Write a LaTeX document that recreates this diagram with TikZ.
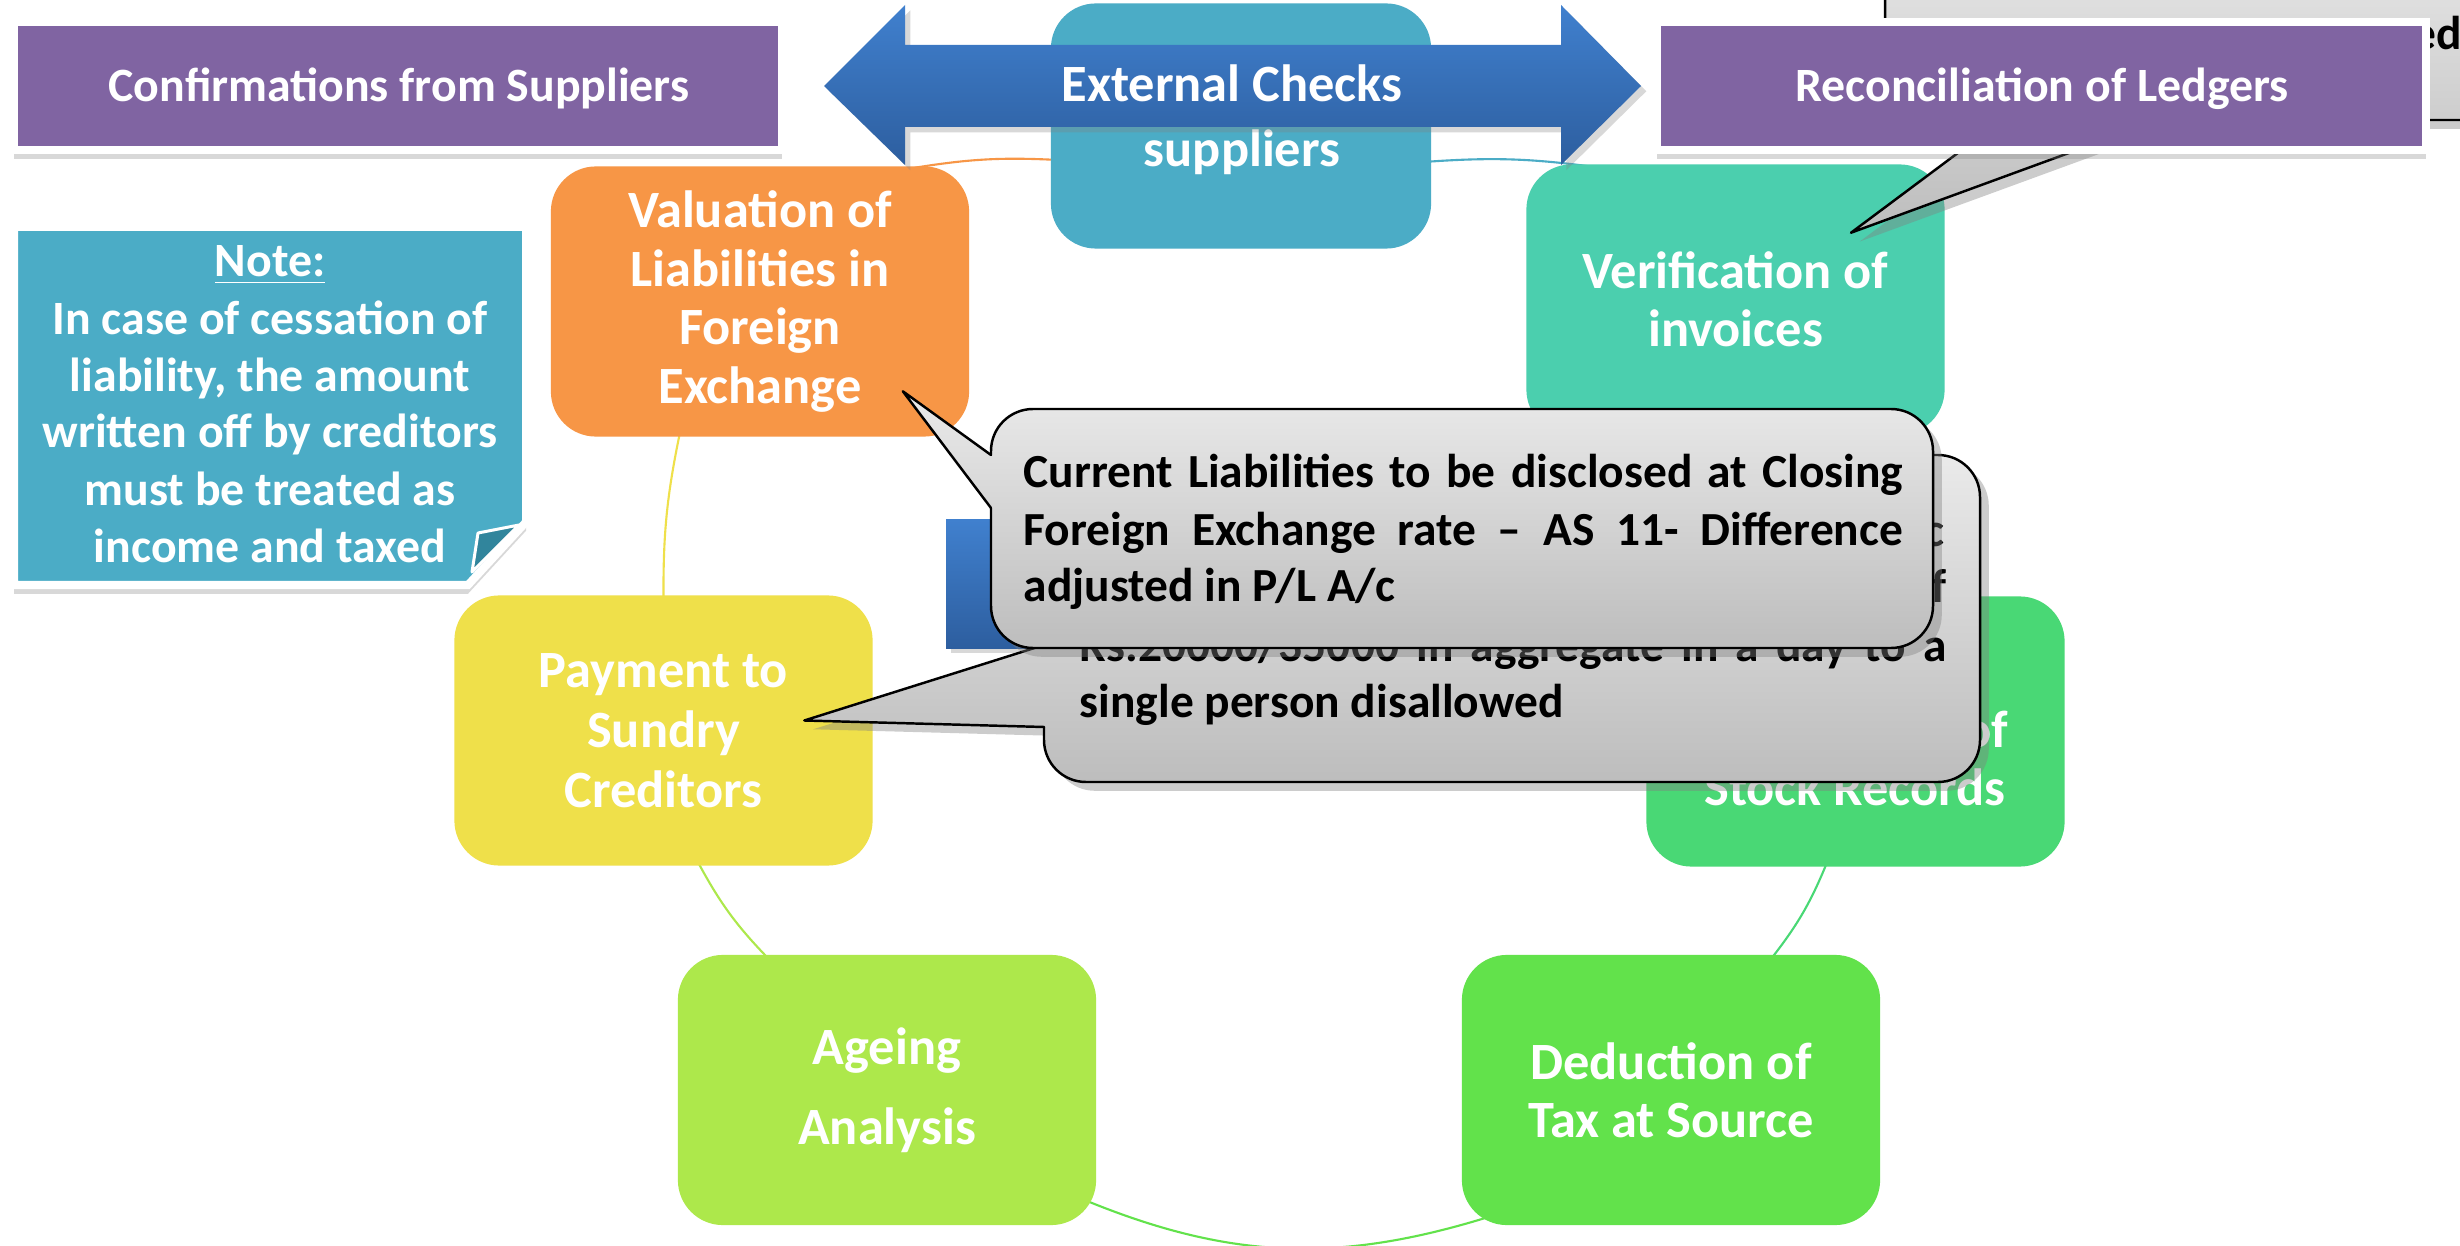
\documentclass[tikz,border=0pt]{standalone}
\usepackage{fontspec}
\setmainfont{Carlito}
\usetikzlibrary{calc,shadows,backgrounds}
\definecolor{purp}{HTML}{8064A2}
\definecolor{tealc}{HTML}{4BACC6}
\definecolor{orangec}{HTML}{F79646}
\definecolor{mintc}{HTML}{4BCFAE}
\definecolor{stockc}{HTML}{49D875}
\definecolor{yellowc}{HTML}{EFE04A}
\definecolor{agec}{HTML}{ADE84B}
\definecolor{dedc}{HTML}{62E24B}
\definecolor{foldc}{HTML}{31859C}
\definecolor{blueT}{HTML}{4080CE}
\definecolor{blueB}{HTML}{2D5E9F}
\definecolor{grayT}{HTML}{EAEAEA}
\definecolor{grayB}{HTML}{BDBDBD}
\begin{document}
\begin{tikzpicture}[x=0.01cm,y=-0.01cm,
  cbox/.style={rectangle, rounded corners=0.45cm, inner sep=0pt, minimum width=4.18cm, minimum height=2.7cm, text=white, align=center},
  bfs/.style={font=\bfseries\fontsize{14.9pt}{#1}\selectfont},
  textw/.style={text=white, inner sep=0pt, font=\bfseries\fontsize{14.9pt}{17pt}\selectfont},
  ptext/.style={text=white, inner sep=0pt, font=\bfseries\fontsize{13.6pt}{16pt}\selectfont},
  ctext/.style={text=black, inner sep=0pt, font=\bfseries\fontsize{13.5pt}{16pt}\selectfont},
  pbox/.style={rectangle, fill=purp, draw=white, line width=0.08cm, inner sep=0pt, minimum width=7.68cm, minimum height=1.28cm, drop shadow={shadow xshift=0pt, shadow yshift=-2.5pt, opacity=0.3}},
  arcline/.style={line width=0.6pt},
  cfill/.style={top color=grayT, bottom color=grayB, drop shadow={shadow xshift=2.5pt, shadow yshift=-2.5pt, opacity=0.4}},
  cline/.style={draw=black, line width=0.7pt, line cap=round, line join=round},
  blueshade/.style={top color=blueT, bottom color=blueB, drop shadow={shadow xshift=1.5pt, shadow yshift=-1.5pt, opacity=0.3}}
]
\useasboundingbox (0,0) rectangle (2460,1246);

% ---- cycle boxes
\node[cbox, fill=tealc, minimum width=3.8cm, minimum height=2.45cm] (sup) at (1241,126) {};
\node[textw, anchor=base] (supt) at (1242,167) {suppliers};
\node[cbox, fill=orangec, bfs=16.65pt] (val) at (760,301.5) {Valuation of\\Liabilities in\\Foreign\\Exchange};
\node[cbox, fill=mintc, bfs=16.5pt] (ver) at (1735.5,299.5) {Verification of\\invoices};
\node[cbox, fill=stockc] (stk) at (1855.5,731.5) {};
\node[textw, anchor=base east] (stk1) at (2009,747) {of};
\node[textw, anchor=base] (stk2) at (1855,805) {Stock Records};
\node[cbox, fill=yellowc, bfs=17.1pt] (pay) at (663.5,730.5) {Payment to\\Sundry\\Creditors};
\node[cbox, fill=agec, bfs=22.8pt] (age) at (887,1090) {Ageing\\Analysis};
\node[cbox, fill=dedc, bfs=16.5pt] (ded) at (1671,1090) {Deduction of\\Tax at Source};

% ---- double arrow
\path[blueshade] (824,86) -- (905,5) -- (905,45) -- (1561,45) -- (1561,5) -- (1641,86) -- (1561,165) -- (1561,127) -- (905,127) -- (905,165) -- cycle;
\node[textw, anchor=base] (ext) at (1232,102) {External Checks};

% ---- top-right callout
\coordinate (t0) at ($(ver.north)+(115.5,69)$);
\path[cfill] (t0) -- (2002,120) -- (2159,120) -- cycle (1885,-80) [rounded corners=0.42cm] rectangle (2530,120);
\draw[cline] (2159,120) [rounded corners=0.42cm] -- (2530,120) -- (2530,-80) -- (1885,-80) -- (1885,120) -- (2002,120);
\draw[cline] (2002,120) -- (t0) -- (2159,120);
\node[ctext, anchor=base east] (edt) at (2463,50) {ed};

% ---- purple boxes
\node[pbox] (conf) at (398,86) {};
\node[ptext, anchor=base] (conft) at (399,102) {Confirmations from Suppliers};
\node[pbox] (rec) at (2041.5,86) {};
\node[ptext, anchor=base] (rect) at (2042,102) {Reconciliation of Ledgers};

% ---- note
\path[fill=tealc, draw=white, line width=0.08cm, drop shadow={shadow xshift=0pt, shadow yshift=-2.5pt, opacity=0.3}] (14,227) -- (526,227) -- (526,522) -- (468,585) -- (14,585) -- cycle;
\path[fill=foldc, draw=white, line width=0.03cm, line join=round] (478,533) -- (519,525) -- (472,572) -- cycle;
\node[ptext, anchor=base] (n0) at (270,277) {\underline{Note:}};
\node[ptext, anchor=base] (n1) at (270,335) {In case of cessation of};
\node[ptext, anchor=base] (n2) at (270,392) {liability, the amount};
\node[ptext, anchor=base] (n3) at (270,448) {written off by creditors};
\node[ptext, anchor=base] (n4) at (270,505) {must be treated as};
\node[ptext, anchor=base] (n5) at (270,563) {income and taxed};

% ---- blue block behind the callouts
\path[blueshade] (946,520) rectangle (1100,648);

% ---- callout 2 (to Payment)
\coordinate (t2) at ($(pay.east)+(-69,-10)$);
\path[cfill] (t2) -- (1044,645) -- (1044,727) -- cycle (1044,455) [rounded corners=0.42cm] rectangle (1980,782);
\draw[cline] (1044,645) [rounded corners=0.42cm] -- (1044,455) -- (1980,455) -- (1980,782) -- (1044,782) -- (1044,727);
\draw[cline] (1044,645) -- (t2) -- (1044,727);
\node[ctext, anchor=base east] (c2a) at (1945,547) {c};
\node[ctext, anchor=base east] (c2b) at (1947,603) {f};
\node[ctext, anchor=base west] (c2c) at (1079,662) {\makebox[8.66cm][s]{Rs.20000/35000 in aggregate in a day to a}};
\node[ctext, anchor=base west] (c2d) at (1079,717) {single person disallowed};

% ---- callout 1 (to Valuation)
\coordinate (t1) at ($(val.south east)+(-67,-46)$);
\path[cfill] (t1) -- (991,455) -- (991,508) -- cycle (991,409) [rounded corners=0.42cm] rectangle (1933,648);
\draw[cline] (991,455) [rounded corners=0.42cm] -- (991,409) -- (1933,409) -- (1933,648) -- (991,648) -- (991,508);
\draw[cline] (991,455) -- (t1) -- (991,508);
\node[ctext, anchor=base west] (c1a) at (1023,488) {\makebox[8.79cm][s]{Current Liabilities to be disclosed at Closing}};
\node[ctext, anchor=base west] (c1b) at (1023,545) {\makebox[8.79cm][s]{Foreign Exchange rate – AS 11- Difference}};
\node[ctext, anchor=base west] (c1c) at (1023,602) {adjusted in P/L A/c};

% ---- cycle arcs (behind everything)
\begin{scope}[on background layer]
\fill[white] (0,0) rectangle (2460,1246);
\draw[arcline, draw=orangec] ($(val.north east)+(-55,2)$) to[bend left=6] ($(sup.west)+(8,34)$);
\draw[arcline, draw=tealc] ($(sup.east)+(-8,36)$) to[bend left=6] ($(ver.north west)+(74,4)$);
\draw[arcline, draw=stockc] ($(stk.south)+(-28,-6)$) to[bend left=8] ($(ded.north)+(99,6)$);
\draw[arcline, draw=dedc] ($(ded.south west)+(28,-9)$) to[bend left=20] ($(age.south east)+(-20,-29)$);
\draw[arcline, draw=agec] ($(age.north)+(-117,6)$) to[bend left=8] ($(pay.south)+(34,-5)$);
\draw[arcline, draw=yellowc] ($(pay.north)+(0,4)$) to[bend left=6] ($(val.south)+(-80,-5)$);
\end{scope}
\end{tikzpicture}
\end{document}
